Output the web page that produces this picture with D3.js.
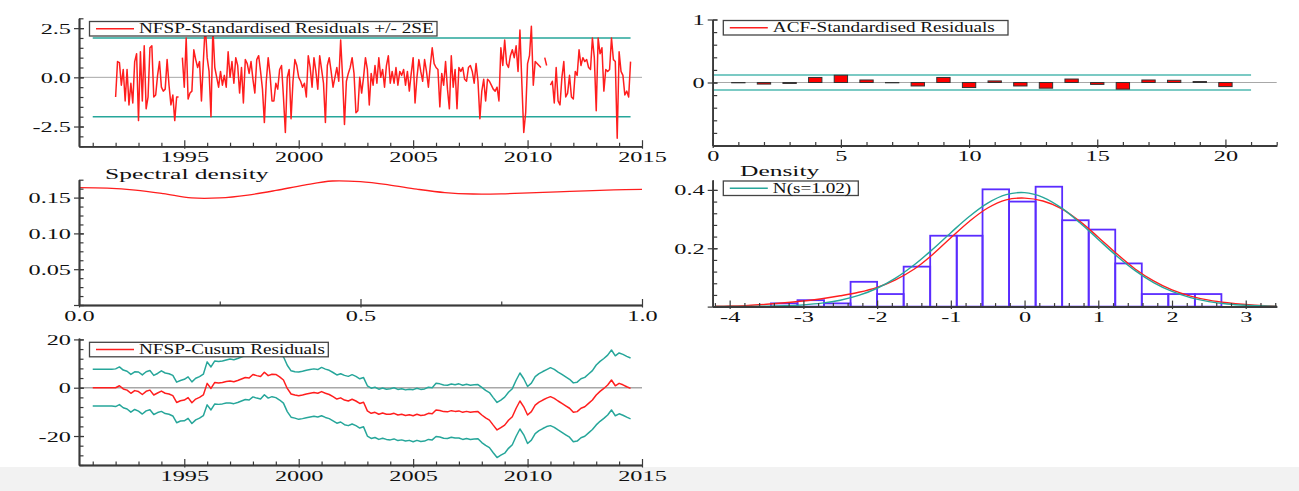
<!DOCTYPE html>
<html>
<head>
<meta charset="utf-8">
<script src="https://cdn.jsdelivr.net/npm/d3@7"></script>
<style>
  body { margin: 0; background: #fff; }
</style>
</head>
<body>
<div id="wrapper"></div>
<script>
// ---- data ----
const resStart = 1992;          // monthly residuals, first obs 1992(1)
const residuals = [
  -1.0, 0.8, 0.75, -0.4, 0.4, -1.2, 0.4, -1.4, -0.3, -1.3, 0.8, 1.2,
  -2.2, 1.3, -1.2, 1.6, -1.6, -1.0, 1.5, 1.6, -1.0, -0.9, 0.1, 0.8,
  -0.5, -0.7, -0.6, 0.9, -0.4, -1.4, -0.9, -2.2, -1.0, -1.0, null, 1.0,
  -0.5, 2.0, -1.1, -0.8, -0.7, 1.4, 0.9, 0.5, 0.8, -1.2, 0.8, 2.7,
  1.0, 0.3, -2.0, 2.5, 0.5, 0.0, -0.5, 0.3, -0.4, 0.1, -0.5, 1.3,
  0.0, 0.8, -0.3, 1.0, 0.6, -0.8, 0.5, -1.3, 0.9, 0.7, 0.2, 0.8,
  -0.1, -0.8, 0.9, 1.1, 0.3, -0.6, -2.3, -0.2, 1.0, 0.1, -1.2, -1.2,
  -0.3, -0.6, 0.4, 0.6, -1.0, -2.8, 0.0, 0.4, -2.1, -0.2, 0.9, 0.6,
  0.0, -0.2, -0.5, -0.3, -1.0, 1.1, 0.5, -0.5, 1.0, 0.3, -0.6, 1.1,
  0.4, -0.3, -2.3, 0.6, 1.0, 0.3, -0.5, 0.0, 0.5, -0.2, 1.9, 0.0,
  -2.4, -0.2, 0.2, 0.5, 1.0, 0.2, -1.8, -1.7, 0.0, -0.8, 0.0, 1.0,
  0.4, -1.4, 0.2, -0.4, 0.6, -0.3, 1.0, 0.0, 0.4, -0.5, 0.6, 1.1,
  -0.3, 0.3, -0.3, 0.5, -0.4, 0.3, 0.1, 0.4, -0.4, 0.3, -0.7, 0.2,
  1.0, -1.3, 0.0, 0.9, 0.3, -0.2, 0.9, 0.3, -0.5, 0.6, 1.5, 0.7,
  0.5, 0.4, -1.5, 0.2, -0.4, 0.8, -0.6, -1.6, 1.1, -0.5, 0.4, -1.6,
  0.5, 0.3, 0.5, -0.1, -0.2, 0.5, 0.6, 0.3, -0.3, 0.7, -0.2, -2.1,
  -0.7, -0.1, -1.2, -0.1, -0.2, -0.4, -0.6, -0.7, -0.5, -1.2, 1.5, 0.6,
  1.9, 0.7, 0.5, 1.1, 1.4, 1.0, 1.6, 0.3, 2.4, -0.3, -2.8, -1.8,
  0.7, 1.1, 2.6, -0.4, 0.8, 0.7, 0.6, 0.5, null, 1.0, 0.6, null,
  -0.4, -0.2, -1.3, 0.5, -1.2, -1.4, 0.0, 0.8, -1.0, -0.8, 0.1, -1.0,
  -1.1, 0.3, 0.1, 1.4, 0.6, 1.0, 0.8, 0.9, 0.5, 0.4, 2.0, 1.0,
  -1.7, 2.0, 1.2, 1.5, -0.7, 0.4, 0.3, 0.4, 2.0, 0.9, 0.8, -3.1,
  1.3, 0.3, 0.1, -0.9, -0.7, -1.0, 0.8
];
const seBand = [-2, 2];

const acfLags = [1, 2, 3, 4, 5, 6, 7, 8, 9, 10, 11, 12, 13, 14, 15, 16, 17, 18, 19, 20];
const acfValues = [-0.005, -0.025, -0.015, 0.08, 0.115, 0.04, -0.005, -0.055, 0.08, -0.08,
                   0.025, -0.055, -0.09, 0.055, -0.03, -0.105, 0.04, 0.035, 0.015, -0.065];
const acfBand = [-0.12, 0.12];

const specFreq = [0, 0.05, 0.1, 0.15, 0.2, 0.25, 0.3, 0.35, 0.4, 0.45, 0.5,
                  0.55, 0.6, 0.65, 0.7, 0.75, 0.8, 0.85, 0.9, 0.95, 1.0];
const specValues = [0.164, 0.1633, 0.1605, 0.1555, 0.1495, 0.1495, 0.1535, 0.160, 0.1675, 0.1732, 0.1722,
                    0.1678, 0.1618, 0.157, 0.155, 0.1552, 0.1565, 0.158, 0.1595, 0.1607, 0.1615];

const histEdges = [-3.44, -3.08, -2.72, -2.36, -2.00, -1.64, -1.28, -0.92, -0.57,
                   -0.21, 0.15, 0.51, 0.87, 1.23, 1.59, 1.95, 2.31, 2.67];
const histDensity = [0.011, 0.022, 0.011, 0.085, 0.043, 0.137, 0.243, 0.243, 0.402,
                     0.360, 0.411, 0.296, 0.264, 0.148, 0.043, 0.043, 0.043];
const densX = [-4.2, -4, -3.75, -3.5, -3.25, -3, -2.75, -2.5, -2.25, -2, -1.75, -1.5, -1.25, -1, -0.75, -0.5,
               -0.25, 0, 0.25, 0.5, 0.75, 1, 1.25, 1.5, 1.75, 2, 2.25, 2.5, 2.75, 3, 3.25, 3.42];
const densNormal = [0.0001, 0.0002, 0.0005, 0.0013, 0.0029, 0.0060, 0.0118, 0.0219, 0.0382, 0.0629, 0.0975,
                    0.1424, 0.1958, 0.2535, 0.3090, 0.3548, 0.3837, 0.3906, 0.3746, 0.3382, 0.2875, 0.2302,
                    0.1736, 0.1233, 0.0824, 0.0519, 0.0308, 0.0172, 0.0090, 0.0045, 0.0021, 0.0013];
const densKernel = [0.001, 0.002, 0.004, 0.008, 0.013, 0.019, 0.027, 0.037, 0.049, 0.066, 0.092,
                    0.128, 0.178, 0.236, 0.292, 0.338, 0.366, 0.372, 0.362, 0.336, 0.292, 0.238,
                    0.181, 0.129, 0.088, 0.057, 0.036, 0.022, 0.013, 0.007, 0.003, 0.0015];

const cusumStart = 1991;        // six readings per year
const cusum = [
  0, 0, 0, 0, 0, 0,
  0, 0.8, -0.5, -1.0, -2.3, -1.2,
  -1.6, -2.8, -1.5, -1.0, -3.0, -2.2,
  -1.4, -2.3, -2.6, -3.3, -6.1, -5.4,
  -5.1, -4.1, -6.2, -4.7, -4.0, -3.0,
  1.8, -0.3, 2.2, 2.0, 2.2, 2.6,
  2.8, 2.5, 3.0, 3.6, 4.2, 4.0,
  5.5, 5.0, 4.6, 6.4, 5.0, 5.6,
  5.5, 4.5, 3.2, -0.3, -2.6, -3.0,
  -3.3, -3.0, -2.6, -2.3, -2.0, -2.3,
  -1.6, -2.3, -2.8, -3.7, -4.7, -4.2,
  -5.1, -5.5, -4.8, -5.5, -6.5, -6.0,
  -9.6, -10.6, -10.2, -11.0, -10.5, -11.0,
  -11.0, -10.6, -11.3, -11.0, -11.5, -11.2,
  -11.6, -11.0, -11.5, -11.3, -10.6, -10.8,
  -9.2, -9.4, -9.9, -10.0, -9.5, -9.8,
  -9.6, -10.2, -9.8, -10.2, -10.0, -9.9,
  -11.3, -12.5, -13.4, -15.5, -17.5, -16.5,
  -15.5, -13.5, -12.0, -8.5, -5.5, -7.9,
  -11.3, -9.9, -7.2, -6.0, -5.1, -4.3,
  -3.7, -4.4, -5.5, -6.5, -7.5, -8.5,
  -10.2, -9.9, -8.5, -7.9, -6.5, -5.1,
  -3.0, -1.5, -0.3, 1.1, 3.2, 0.8,
  1.8, 1.2, 0.4, -0.3
];
// half width of the cusum band, one per year from 1991
const cusumBand = [7.6, 7.8, 8.1, 8.4, 8.6, 8.9, 9.1, 9.3, 9.6, 9.8, 10.0, 10.2,
                   10.4, 10.6, 10.8, 11.0, 11.2, 11.4, 11.6, 11.8, 12.0, 12.2, 12.4, 12.6];

const yearTicks = [1995, 2000, 2005, 2010, 2015];

// ---- drawing ----
const FONT = "'Liberation Serif', 'Times New Roman', serif";
const INK = "#111", AXIS = "#3a3a3a", RED = "#ff1e1e", TEAL = "#26a69a", GREY = "#a8a8a8";
const TICK_SX = 1.62, LEG_SX = 1.37, TITLE_SX = 1.7;

// plain hyphen minus like the original
const fmt = spec => {
    const f = d3.format(spec);
    return d => f(d).replace("\u2212", "-");
};

const svg = d3.select("#wrapper").append("svg")
    .attr("width", 1299).attr("height", 491)
    .style("display", "block");

svg.append("rect").attr("x", 0).attr("y", 467).attr("width", 1299).attr("height", 24).attr("fill", "#f2f2f2");

function styleAxis(g) {
    g.attr("font-family", FONT).attr("font-size", 15);
    g.select(".domain").attr("stroke", AXIS).attr("stroke-width", 1.5);
    g.selectAll(".tick line").attr("stroke", AXIS).attr("stroke-width", 1.2);
    g.selectAll(".tick text").attr("fill", INK);
}

function frame(x, y, c) {
    const bottom = y.range()[0], left = x.range()[0];
    const g = svg.append("g");
    const at = (t) => g.append("g").attr("transform", t);
    at(`translate(0,${bottom})`)
        .call(d3.axisTop(x).tickValues(c.xMinor).tickSize(3.5).tickSizeOuter(0).tickFormat("")).call(styleAxis);
    at(`translate(0,${bottom})`)
        .call(d3.axisTop(x).tickValues(c.xMajor).tickSize(6).tickSizeOuter(0).tickFormat("")).call(styleAxis);
    const xb = at(`translate(0,${bottom})`)
        .call(d3.axisBottom(x).tickValues(c.xMajor).tickSize(2.5).tickSizeOuter(0).tickFormat(c.xFmt)).call(styleAxis);
    xb.selectAll(".tick text").attr("y", null).attr("dy", null)
        .attr("transform", `translate(0,15.5) scale(${TICK_SX},1)`);

    at(`translate(${left},0)`)
        .call(d3.axisRight(y).tickValues(c.yMinor).tickSize(4.5).tickSizeOuter(0).tickFormat("")).call(styleAxis);
    at(`translate(${left},0)`)
        .call(d3.axisRight(y).tickValues(c.yMajor).tickSize(5).tickSizeOuter(0).tickFormat("")).call(styleAxis);
    const yl = at(`translate(${left},0)`)
        .call(d3.axisLeft(y).tickValues(c.yMajor).tickSize(5).tickSizeOuter(0).tickFormat(c.yFmt)).call(styleAxis);
    yl.selectAll(".tick text").attr("x", null).attr("dy", null)
        .attr("transform", `translate(-8,5) scale(${TICK_SX},1)`);
}

function legend(x0, y0, w, color, label) {
    const g = svg.append("g");
    g.append("rect").attr("x", x0).attr("y", y0).attr("width", w).attr("height", 14.5)
        .attr("fill", "#fff").attr("stroke", "#444").attr("stroke-width", 1.3);
    g.append("line").attr("x1", x0 + 6.5).attr("x2", x0 + 44.5).attr("y1", y0 + 7.2).attr("y2", y0 + 7.2)
        .attr("stroke", color).attr("stroke-width", 1.5);
    g.append("text").attr("transform", `translate(${x0 + 49.5},${y0 + 11.8}) scale(${LEG_SX},1)`)
        .attr("font-family", FONT).attr("font-size", 14).attr("fill", INK).text(label);
}

function title(x0, yb, label) {
    svg.append("text").attr("transform", `translate(${x0},${yb}) scale(${TITLE_SX},1)`)
        .attr("font-family", FONT).attr("font-size", 15).attr("fill", INK).text(label);
}

function hline(x, y, v, from, to, color, w) {
    svg.append("line").attr("x1", x(from)).attr("x2", x(to)).attr("y1", y(v)).attr("y2", y(v))
        .attr("stroke", color).attr("stroke-width", w);
}

const yearMinor = d3.range(1991, 2015).filter(v => v % 5 !== 0);

// 1. standardised residuals
{
    const x = d3.scaleLinear().domain([1990.4, 2015]).range([79, 642]);
    const y = d3.scaleLinear().domain([-3.5, 3.0]).range([146.2, 18.3]);
    const resEnd = resStart + (residuals.length - 1) / 12;
    hline(x, y, 0, 1990.4, 2015, GREY, 1);
    seBand.forEach(b => hline(x, y, b, cusumStart, resEnd, TEAL, 1.5));
    const line = d3.line().defined(d => d != null)
        .x((d, i) => x(resStart + i / 12)).y(d => y(d));
    svg.append("path").attr("d", line(residuals)).attr("fill", "none")
        .attr("stroke", RED).attr("stroke-width", 1.5).attr("stroke-linejoin", "round");
    frame(x, y, {
        xMajor: yearTicks, xMinor: yearMinor, xFmt: fmt("d"),
        yMajor: [-2.5, 0, 2.5], yMinor: d3.range(-3.5, 3.01, 0.5), yFmt: fmt(".1f")
    });
    legend(89.5, 21.5, 347.5, RED, "NFSP-Standardised Residuals +/- 2SE");
}

// 2. ACF
{
    const x = d3.scaleLinear().domain([0, 22]).range([712.7, 1276.7]);
    const y = d3.scaleLinear().domain([-1, 1]).range([145.5, 19.5]);
    hline(x, y, 0, 0, 22, GREY, 1);
    acfBand.forEach(b => hline(x, y, b, 0, acfLags.length + 1, "#4fb8b0", 1.6));
    const bw = x(0.52) - x(0);
    svg.append("g").selectAll("rect").data(acfLags).join("rect")
        .attr("x", d => x(d) - bw / 2)
        .attr("y", (d, i) => y(Math.max(0, acfValues[i])))
        .attr("width", bw)
        .attr("height", (d, i) => Math.abs(y(acfValues[i]) - y(0)))
        .attr("fill", "#f00").attr("stroke", "#333").attr("stroke-width", 1);
    frame(x, y, {
        xMajor: [0, 5, 10, 15, 20], xMinor: d3.range(1, 23).filter(v => v % 5 !== 0), xFmt: fmt("d"),
        yMajor: [0, 1], yMinor: d3.range(-1, 1.01, 0.2), yFmt: fmt("d")
    });
    legend(723.3, 20.5, 284.7, RED, "ACF-Standardised Residuals");
}

// 3. spectral density
{
    const x = d3.scaleLinear().domain([0, 1]).range([79, 642]);
    const y = d3.scaleLinear().domain([0, 0.175]).range([305, 179.7]);
    const line = d3.line().curve(d3.curveCatmullRom)
        .x((d, i) => x(specFreq[i])).y(d => y(d));
    svg.append("path").attr("d", line(specValues)).attr("fill", "none")
        .attr("stroke", RED).attr("stroke-width", 1.3);
    frame(x, y, {
        xMajor: [0, 0.5, 1], xMinor: [0.25, 0.75], xFmt: fmt(".1f"),
        yMajor: [0, 0.05, 0.10, 0.15], yMinor: d3.range(0, 0.176, 0.0125),
        yFmt: d => d === 0 ? "" : fmt(".2f")(d)
    });
    title(105, 178.5, "Spectral density");
}

// 4. density
{
    const x = d3.scaleLinear().domain([-4.23, 3.42]).range([712.7, 1276.7]);
    const y = d3.scaleLinear().domain([0, 0.434]).range([306.6, 180]);
    svg.append("g").selectAll("rect").data(histDensity).join("rect")
        .attr("x", (d, i) => x(histEdges[i]))
        .attr("y", d => y(d))
        .attr("width", (d, i) => x(histEdges[i + 1]) - x(histEdges[i]))
        .attr("height", d => y(0) - y(d))
        .attr("fill", "none").attr("stroke", "#5a2cff").attr("stroke-width", 1.8);
    const line = d3.line().curve(d3.curveCatmullRom).x((d, i) => x(densX[i])).y(d => y(d));
    svg.append("path").attr("d", line(densKernel)).attr("fill", "none")
        .attr("stroke", RED).attr("stroke-width", 1.4);
    svg.append("path").attr("d", line(densNormal)).attr("fill", "none")
        .attr("stroke", TEAL).attr("stroke-width", 1.4);
    frame(x, y, {
        xMajor: [-4, -3, -2, -1, 0, 1, 2, 3],
        xMinor: d3.range(-42, 35, 2).map(v => v / 10).filter(v => !Number.isInteger(v)),
        xFmt: fmt("d"),
        yMajor: [0, 0.2, 0.4], yMinor: d3.range(0, 0.434, 0.04),
        yFmt: d => d === 0 ? "" : fmt(".1f")(d)
    });
    title(740, 176, "Density");
    legend(723.3, 181, 135, TEAL, "N(s=1.02)");
}

// 5. cusum
{
    const x = d3.scaleLinear().domain([1990.4, 2015]).range([79, 642]);
    const y = d3.scaleLinear().domain([-32, 20.5]).range([465, 338.2]);
    hline(x, y, 0, 1990.4, 2015, GREY, 1.5);
    const t = i => cusumStart + i / 6;
    const band = i => cusumBand[Math.floor(i / 6)];
    const line = d3.line().x((d, i) => x(t(i))).y(d => y(d));
    const upper = cusum.map((v, i) => v + band(i));
    const lower = cusum.map((v, i) => v - band(i));
    [upper, lower].forEach(s => svg.append("path").attr("d", line(s)).attr("fill", "none")
        .attr("stroke", TEAL).attr("stroke-width", 1.5).attr("stroke-linejoin", "round"));
    svg.append("path").attr("d", line(cusum)).attr("fill", "none")
        .attr("stroke", RED).attr("stroke-width", 1.5).attr("stroke-linejoin", "round");
    frame(x, y, {
        xMajor: yearTicks, xMinor: yearMinor, xFmt: fmt("d"),
        yMajor: [-20, 0, 20], yMinor: d3.range(-32, 20.1, 4), yFmt: fmt("d")
    });
    legend(89.5, 342.3, 238.8, RED, "NFSP-Cusum Residuals");
}
</script>
</body>
</html>
